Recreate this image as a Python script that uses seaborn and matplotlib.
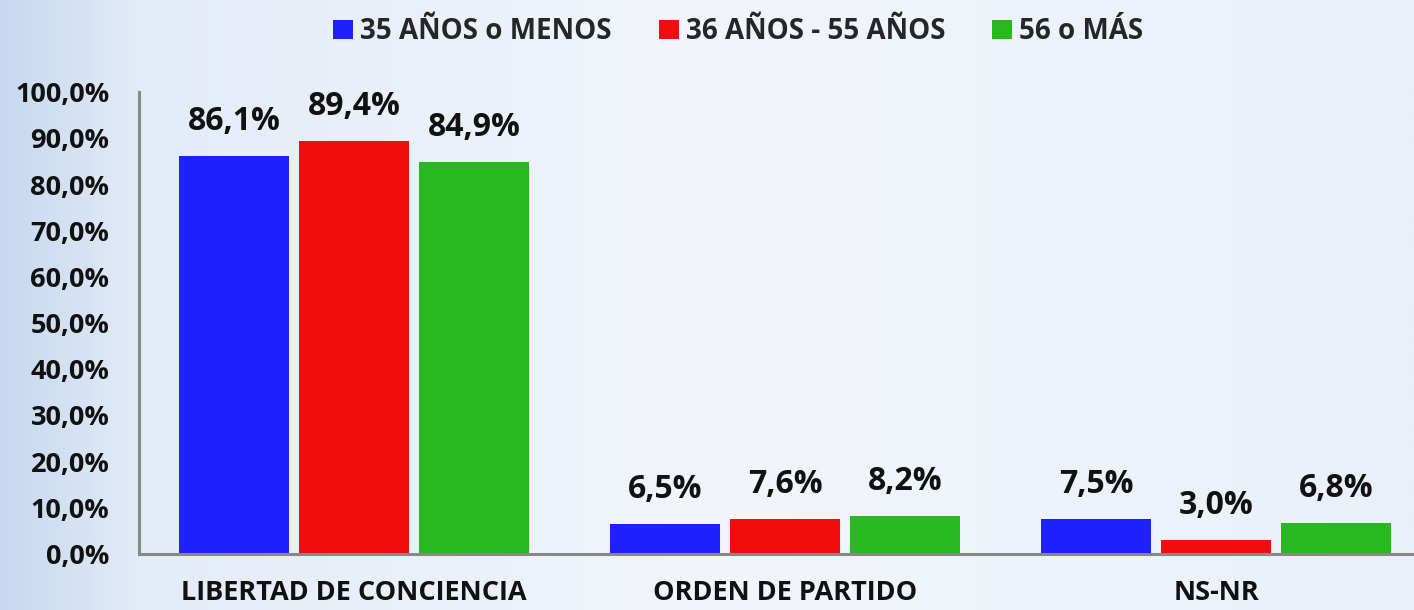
import numpy as np
import pandas as pd
import matplotlib
matplotlib.use("Agg")
import matplotlib.pyplot as plt
from matplotlib.colors import LinearSegmentedColormap
from matplotlib.patches import Patch
import seaborn as sns

categories = ["LIBERTAD DE CONCIENCIA", "ORDEN DE PARTIDO", "NS-NR"]
groups = ["35 AÑOS o MENOS", "36 AÑOS - 55 AÑOS", "56 o MÁS"]
young = [86.1, 6.5, 7.5]
middle = [89.4, 7.6, 3.0]
older = [84.9, 8.2, 6.8]
yticks = [0, 10, 20, 30, 40, 50, 60, 70, 80, 90, 100]
ytick_labels = ["0,0%", "10,0%", "20,0%", "30,0%", "40,0%", "50,0%",
                "60,0%", "70,0%", "80,0%", "90,0%", "100,0%"]
colors = ["#2020FF", "#F20C0C", "#28B820"]

df = pd.DataFrame({
    "categoria": categories * 3,
    "grupo": [groups[0]] * 3 + [groups[1]] * 3 + [groups[2]] * 3,
    "valor": young + middle + older,
})

sns.set_theme(style="white")
plt.rcParams["font.family"] = ["Open Sans", "DejaVu Sans"]
plt.rcParams["font.weight"] = "bold"

fig = plt.figure(figsize=(14.14, 6.10), dpi=100)

# background gradient
bg = fig.add_axes([0, 0, 1, 1], zorder=-10)
cmap = LinearSegmentedColormap.from_list(
    "bg",
    [(0.0, (198/255, 216/255, 240/255)),
     (0.10, (228/255, 236/255, 248/255)),
     (0.5, (242/255, 245/255, 251/255)),
     (1.0, (234/255, 240/255, 250/255))])
bg.imshow(np.linspace(0, 1, 512)[None, :], aspect="auto", cmap=cmap,
          extent=[0, 1, 0, 1])
bg.axis("off")

ax = fig.add_axes([0.098, 0.0918, 0.9144, 0.757])
ax.set_facecolor("none")

sns.barplot(data=df, x="categoria", y="valor", hue="grupo",
            order=categories, hue_order=groups, palette=colors,
            width=0.835, gap=0.083, legend=False, ax=ax,
            linewidth=0, saturation=1)

ax.set_ylim(0, 100)
ax.set_xlim(-0.5, 2.5)
ax.set_yticks(yticks)
ax.set_yticklabels(ytick_labels)
ax.set_xlabel("")
ax.set_ylabel("")
ax.tick_params(axis="y", length=0, pad=21, labelsize=19.5, labelcolor="#111111")
ax.tick_params(axis="x", length=0, pad=19, labelsize=19.5, labelcolor="#111111")
for lab in ax.get_xticklabels() + ax.get_yticklabels():
    lab.set_fontweight("bold")

for s in ["top", "right"]:
    ax.spines[s].set_visible(False)
for s in ["left", "bottom"]:
    ax.spines[s].set_color("#888888")
    ax.spines[s].set_linewidth(2.2)

for cont in ax.containers:
    vals = [b.get_height() for b in cont]
    ax.bar_label(cont, labels=[f"{v:.1f}%".replace(".", ",") for v in vals],
                 padding=13, fontsize=23, fontweight="bold", color="#111111")

handles = [Patch(facecolor=c, edgecolor="none") for c in colors]
fig.legend(handles, groups, loc="center", bbox_to_anchor=(0.522, 0.948),
           ncol=3, frameon=False, handlelength=0.72,
           handleheight=0.72, handletextpad=0.25, columnspacing=1.68,
           prop={"weight": "bold", "size": 20})

fig.savefig("out.png", dpi=100)
